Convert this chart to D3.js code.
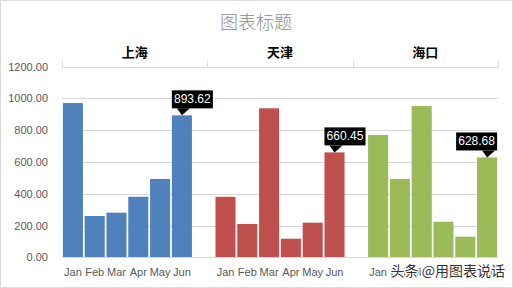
<!DOCTYPE html>
<html>
<head>
<meta charset="utf-8">
<script src="https://cdn.jsdelivr.net/npm/d3@7"></script>
<style>
  html, body { margin: 0; padding: 0; background: #fff; }
  svg { display: block; }
</style>
</head>
<body>
<div id="chart"></div>
<script>
// Data
const cities = ['上海', '天津', '海口'];
const months = ['Jan', 'Feb', 'Mar', 'Apr', 'May', 'Jun'];
const shanghai = [971, 260, 281, 381, 493, 893.62];
const tianjin = [381, 210, 938, 117, 218, 660.45];
const haikou = [770, 493, 952, 224, 130, 628.68];
const cityColors = ['#4F81BD', '#C0504D', '#9BBB59'];
const yTicks = [0, 200, 400, 600, 800, 1000, 1200];

const width = 513, height = 288;
const plotL = 62, plotR = 498, plotT = 66.7, plotB = 257.3;
const fontLatin = 'Liberation Sans, Arial, sans-serif';
const fontCJK = '"Noto Sans CJK SC", sans-serif';

const series = [shanghai, tianjin, haikou];
const rows = [];
const slots = [];
cities.forEach((c, ci) => {
  months.forEach((m, mi) => {
    const key = c + '|' + m;
    slots.push(key);
    rows.push({ key, city: c, ci, month: m, value: series[ci][mi], last: mi === months.length - 1 });
  });
  if (ci < cities.length - 1) slots.push('gap' + ci);
});

const svg = d3.select('#chart').append('svg')
  .attr('width', width).attr('height', height);

// chart border
svg.append('rect')
  .attr('x', 0.5).attr('y', 0.5)
  .attr('width', width - 1).attr('height', height - 1)
  .attr('fill', '#fff').attr('stroke', '#d9d9d9');

const x = d3.scaleBand().domain(slots).range([plotL, plotR])
  .paddingInner(0.08).paddingOuter(0.04);
const y = d3.scaleLinear().domain([0, 1200]).range([plotB, plotT]);
const xGroup = d3.scaleBand().domain(cities).range([plotL, plotR]);

// gridlines
svg.append('g').selectAll('line').data(yTicks.filter(d => d > 0)).join('line')
  .attr('x1', plotL).attr('x2', plotR)
  .attr('y1', d => Math.round(y(d)) + 0.5).attr('y2', d => Math.round(y(d)) + 0.5)
  .attr('stroke', '#d9d9d9');

// y axis labels
svg.append('g').selectAll('text').data(yTicks).join('text')
  .attr('x', 48).attr('y', d => y(d) + 4)
  .attr('text-anchor', 'end')
  .attr('fill', '#595959')
  .attr('font-size', '11px')
  .attr('font-family', fontLatin)
  .text(d => d.toFixed(2));

// top category axis: group ticks + labels
const groupEdges = cities.map(c => xGroup(c)).concat([plotR]);
svg.append('g').selectAll('line').data(groupEdges).join('line')
  .attr('x1', d => Math.round(d) + 0.5).attr('x2', d => Math.round(d) + 0.5)
  .attr('y1', 61).attr('y2', Math.round(plotT) + 0.5)
  .attr('stroke', '#d9d9d9');

svg.append('g').selectAll('text').data(cities).join('text')
  .attr('x', d => xGroup(d) + xGroup.bandwidth() / 2)
  .attr('y', 57)
  .attr('text-anchor', 'middle')
  .attr('fill', '#000')
  .attr('font-size', '13px')
  .attr('font-weight', 700)
  .attr('font-family', fontCJK)
  .text(d => d);

// bars
svg.append('g').selectAll('rect').data(rows).join('rect')
  .attr('x', d => x(d.key))
  .attr('width', x.bandwidth())
  .attr('y', d => y(d.value))
  .attr('height', d => y(0) - y(d.value))
  .attr('fill', d => cityColors[d.ci]);

// baseline
svg.append('line')
  .attr('x1', plotL).attr('x2', plotR)
  .attr('y1', Math.round(plotB) + 0.5).attr('y2', Math.round(plotB) + 0.5)
  .attr('stroke', '#d9d9d9');

// month labels
svg.append('g').selectAll('text').data(rows).join('text')
  .attr('x', d => x(d.key) + x.bandwidth() / 2)
  .attr('y', 276)
  .attr('text-anchor', 'middle')
  .attr('fill', '#595959')
  .attr('font-size', '11px')
  .attr('font-family', fontLatin)
  .text(d => d.month);

// callout labels on the June bars
const boxW = 41, boxH = 18, gapY = 7;
const callouts = svg.append('g').selectAll('g').data(rows.filter(d => d.last)).join('g');
callouts.each(function (d) {
  const g = d3.select(this);
  const bx0 = x(d.key);
  const cx = bx0 + x.bandwidth() / 2;
  const tipY = y(d.value);
  const boxBottom = tipY - gapY;
  let boxX = bx0;
  if (boxX + boxW > plotR) boxX = bx0 + x.bandwidth() - boxW;
  g.append('path')
    .attr('d', `M${cx - 5},${boxBottom} L${cx},${tipY} L${cx + 8},${boxBottom} Z`)
    .attr('fill', '#000');
  g.append('rect')
    .attr('x', boxX).attr('y', boxBottom - boxH)
    .attr('width', boxW).attr('height', boxH)
    .attr('fill', '#000');
  g.append('text')
    .attr('x', boxX + boxW / 2).attr('y', boxBottom - 5)
    .attr('text-anchor', 'middle')
    .attr('fill', '#fff')
    .attr('font-size', '12px')
    .attr('font-family', fontLatin)
    .text(d.value.toFixed(2));
});

// title
svg.append('text')
  .attr('x', 256).attr('y', 29)
  .attr('text-anchor', 'middle')
  .attr('fill', '#8c8c8c')
  .attr('font-size', '18px')
  .attr('font-family', fontCJK)
  .attr('font-weight', 300)
  .text('图表标题');

// watermark
svg.append('text')
  .attr('x', 505).attr('y', 276)
  .attr('text-anchor', 'end')
  .attr('fill', '#333')
  .attr('stroke', '#fff')
  .attr('stroke-width', 2.5)
  .attr('paint-order', 'stroke')
  .attr('font-size', '14px')
  .attr('font-family', fontCJK)
  .text('头条 @用图表说话');
</script>
</body>
</html>
